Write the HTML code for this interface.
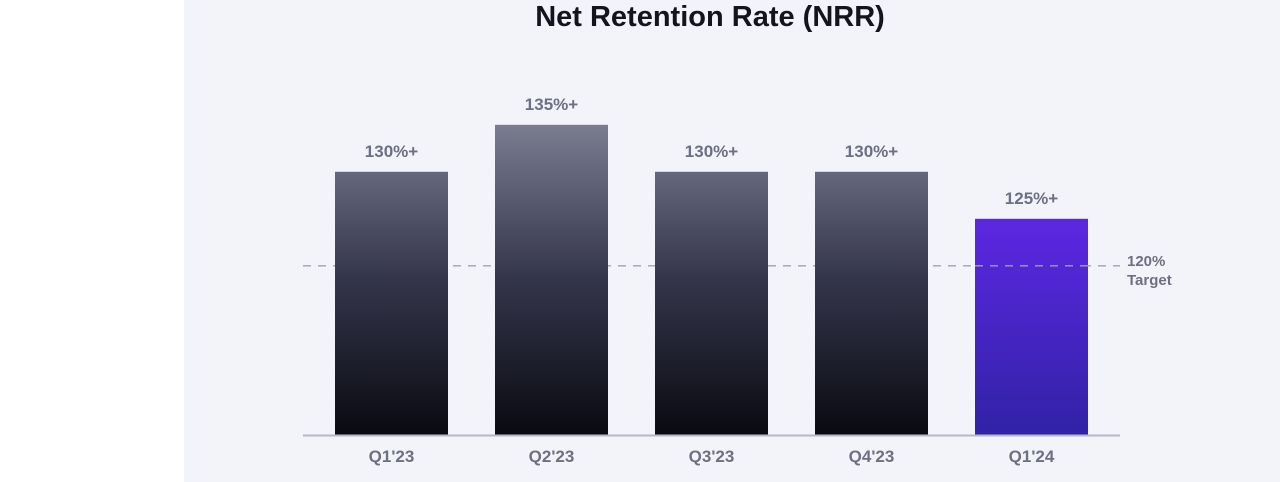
<!DOCTYPE html>
<html><head><meta charset="utf-8"><style>
html,body{margin:0;padding:0;width:1280px;height:482px;overflow:hidden;background:#fff;font-family:"Liberation Sans",sans-serif;}
#bg{position:absolute;left:184px;top:0;width:1096px;height:482px;background:#f3f4f9;}
svg{position:absolute;left:0;top:0;}
</style></head><body>
<div id="bg"></div>
<svg id="chart" width="1280" height="482">
<defs>
<linearGradient id="gGray" gradientUnits="userSpaceOnUse" x1="0" y1="125" x2="0" y2="435">
<stop offset="0" stop-color="#7a7c90"/><stop offset="0.5" stop-color="#34354a"/><stop offset="1" stop-color="#0a0a12"/></linearGradient>
<linearGradient id="gPurple" gradientUnits="userSpaceOnUse" x1="0" y1="219" x2="0" y2="435">
<stop offset="0" stop-color="#5c27e2"/><stop offset="1" stop-color="#3122a6"/></linearGradient>
</defs>
<text x="710" y="26" text-anchor="middle" font-size="29" font-weight="bold" fill="#14141c">Net Retention Rate (NRR)</text>
</svg>
<script>
const categories=["Q1'23","Q2'23","Q3'23","Q4'23","Q1'24"];
const values=[130,135,130,130,125];
const valueLabels=["130%+","135%+","130%+","130%+","125%+"];
const targetValue=120;
const targetLabels=["120%","Target"];
const svg=document.getElementById('chart');
const NS='http://www.w3.org/2000/svg';
const base=435,v0=102,scale=9.4;
function y(v){return base-(v-v0)*scale;}
function xc(i){return 391.5+i*160;}
const bw=113;
function mk(tag,attrs){const e=document.createElementNS(NS,tag);for(const k in attrs)e.setAttribute(k,attrs[k]);svg.appendChild(e);return e;}
const tl=mk('line',{x1:303,x2:1120,y1:y(targetValue),y2:y(targetValue),stroke:'#a0a1b0','stroke-width':1.3,'stroke-dasharray':'8,7'});


categories.forEach((c,i)=>{
 const r=mk('rect',{x:xc(i)-bw/2,y:y(values[i]),width:bw,height:base-y(values[i]),fill:i===categories.length-1?'url(#gPurple)':'url(#gGray)'});
 
 
 const t=mk('text',{x:xc(i),y:y(values[i])-15,'text-anchor':'middle','font-size':'17','font-weight':'bold',fill:'#6e6f82'});
 t.textContent=valueLabels[i];
 
 
 const l=mk('text',{x:xc(i),y:462,'text-anchor':'middle','font-size':'17','font-weight':'bold',fill:'#6e6f82'});
 l.textContent=c;
 
 
});
const last=categories.length-1;
const tl2=mk('line',{x1:xc(last)-bw/2,x2:xc(last)+bw/2,y1:y(targetValue),y2:y(targetValue),stroke:'#a0a1b0','stroke-width':1.3,'stroke-dasharray':'8,7','stroke-dashoffset':'0'});


targetLabels.forEach((s,k)=>{
 const t=mk('text',{x:1127,y:y(targetValue)+k*19,'font-size':'15','font-weight':'bold',fill:'#6e6f82'});
 t.textContent=s;
 
 
});
const ax=mk('line',{x1:303,x2:1120,y1:base+0.5,y2:base+0.5,stroke:'#b8b9c6','stroke-width':2});


</script>
</body></html>
